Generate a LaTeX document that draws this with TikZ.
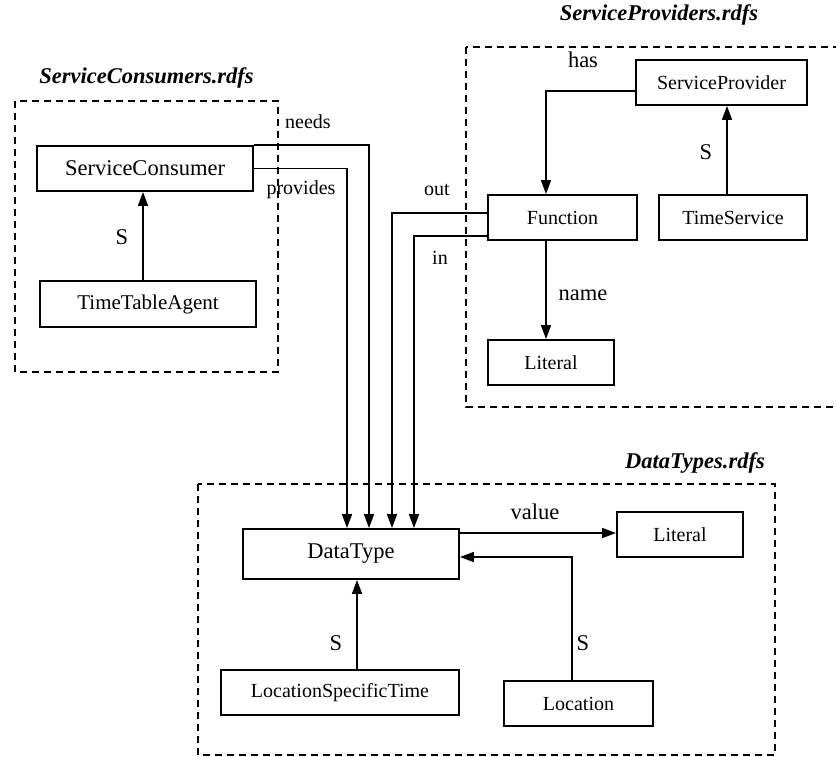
\documentclass[tikz,border=0pt]{standalone}
\usepackage{fontspec}
\setmainfont{Liberation Serif}
\usetikzlibrary{arrows.meta}
\begin{document}
\begin{tikzpicture}[x=1pt,y=-1pt,
  cls/.style={draw, line width=1.9pt, inner sep=0pt, font=\fontsize{20}{24}\selectfont},
  bigcls/.style={cls, font=\fontsize{22.5}{27}\selectfont},
  grp/.style={draw, line width=1.4pt, dash pattern=on 7pt off 5pt},
  link/.style={line width=1.7pt, -{Triangle[length=14pt,width=10pt]}},
  lbl/.style={inner sep=0pt, font=\fontsize{20}{24}\selectfont},
  lblbig/.style={inner sep=0pt, font=\fontsize{22.5}{27}\selectfont},
  ttl/.style={inner sep=0pt, font=\fontsize{22.5}{27}\selectfont\bfseries\itshape}]
\clip (0,0) rectangle (836,756);

% schema groups
\draw[grp] (15,101) rectangle (278,372);
\draw[grp] (466,47) rectangle (845,407);
\draw[grp] (198,484) rectangle (775,755);
\node[ttl] (tcons) at (146.5,78) {ServiceConsumers.rdfs};
\node[ttl] (tprov) at (659,15) {ServiceProviders.rdfs};
\node[ttl, anchor=east] (tdata) at (765,463) {DataTypes.rdfs};

% classes
\node[bigcls, minimum width=216pt, minimum height=45pt] (sc) at (145,168.5) {ServiceConsumer};
\node[cls, font=\fontsize{21}{25}\selectfont, minimum width=216pt, minimum height=46pt] (tta) at (148,304) {TimeTableAgent};
\node[cls, minimum width=171pt, minimum height=45pt] (sp) at (721.5,82.5) {ServiceProvider};
\node[cls, minimum width=149pt, minimum height=45pt] (fn) at (562.5,217.5) {Function};
\node[cls, minimum width=148pt, minimum height=45pt] (ts) at (733,217.5) {TimeService};
\node[cls, minimum width=126pt, minimum height=45pt] (lit1) at (551,362.5) {Literal};
\node[bigcls, minimum width=216pt, minimum height=50pt] (dt) at (351,554) {DataType};
\node[cls, minimum width=126pt, minimum height=45pt] (lit2) at (680,534.5) {Literal};
\node[cls, minimum width=238pt, minimum height=45pt] (lst) at (340,692.5) {LocationSpecificTime};
\node[cls, minimum width=149pt, minimum height=45pt] (loc) at (578.5,703.5) {Location};

% subclass links
\draw[link] ([xshift=-5pt]tta.north) -- ([xshift=-5pt]tta.north |- sc.south);
\draw[link] ([xshift=-6pt]ts.north) -- ([xshift=-6pt]ts.north |- sp.south);
\draw[link] ([xshift=17pt]lst.north) -- ([xshift=17pt]lst.north |- dt.south);
\draw[link] ([xshift=-6.5pt]loc.north) |- ([yshift=-3pt]dt.east);

% properties
\draw[link] (sc.north east) -| ([xshift=18pt]dt.north);
\draw[link] (sc.east) -| ([xshift=-4pt]dt.north);
\draw[link] ([yshift=4.5pt]fn.west) -| ([xshift=41pt]dt.north);
\draw[link] ([yshift=-18.5pt]fn.west) -| ([xshift=63pt]dt.north);
\draw[link] ([yshift=-8.5pt]sp.west) -| ([xshift=-16.5pt]fn.north);
\draw[link] ([xshift=-16.5pt]fn.south) -- ([xshift=-16.5pt]fn.south |- lit1.north);
\draw[link] ([yshift=21pt]dt.east) -- ([yshift=21pt]dt.east -| lit2.west);

% labels
\node[lblbig] (s1) at (122,237) {S};
\node[lblbig] (s2) at (706,152) {S};
\node[lblbig] (s3) at (336,643) {S};
\node[lblbig] (s4) at (583,643) {S};
\node[lbl] (lneeds) at (308,122) {needs};
\node[lbl] (lprov) at (301,190) {provides};
\node[lbl] (lout) at (437,190) {out};
\node[lbl] (lin) at (440,258) {in};
\node[lblbig] (lhas) at (583,60) {has};
\node[lblbig] (lname) at (583,295) {name};
\node[lblbig] (lvalue) at (535,512) {value};
\end{tikzpicture}
\end{document}
